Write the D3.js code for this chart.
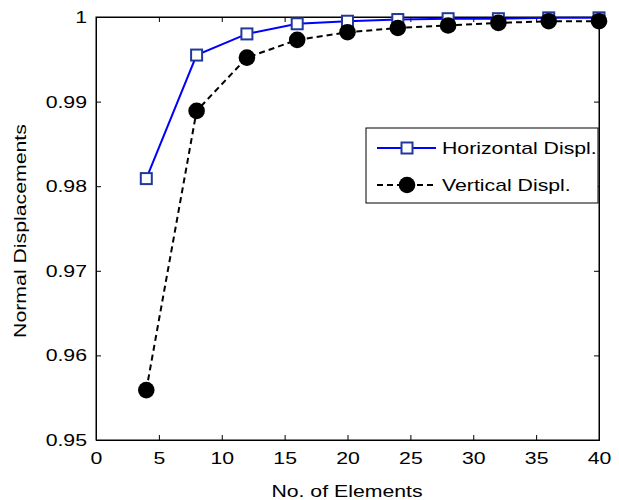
<!DOCTYPE html>
<html><head><meta charset="utf-8">
<script src="https://cdn.jsdelivr.net/npm/d3@7"></script>
<style>body{margin:0;background:#fff}svg{display:block}text{font-family:"Liberation Sans",Arial,sans-serif}</style>
</head><body><svg id="c" width="619" height="500"></svg>
<script>
const elements = [4, 8, 12, 16, 20, 24, 28, 32, 36, 40];
const horizontal = [0.9809, 0.9955, 0.9980, 0.9992, 0.9995, 0.9997, 0.9998, 0.9998, 0.9999, 0.9999];
const vertical = [0.9559, 0.9889, 0.9952, 0.9973, 0.9982, 0.9987, 0.9990, 0.9993, 0.9995, 0.9995];
const xTicks = [0, 5, 10, 15, 20, 25, 30, 35, 40];
const yTicks = [0.95, 0.96, 0.97, 0.98, 0.99, 1];
const seriesNames = ["Horizontal Displ.", "Vertical Displ."];

const svg = d3.select("#c");
const L = 96, R = 599, T = 17, B = 440;
const x = d3.scaleLinear().domain([0, 40]).range([L, R]);
const y = d3.scaleLinear().domain([0.95, 1]).range([B, T]);
const tl = 5;
const FS = 17, STRETCH = 1.25;
function stretch(sel) {
  sel.each(function () {
    const len = this.getComputedTextLength();
    if (len > 0) d3.select(this).attr("textLength", len * STRETCH).attr("lengthAdjust", "spacingAndGlyphs");
  });
}

svg.append("rect").attr("x", L).attr("y", T).attr("width", R - L).attr("height", B - T)
  .attr("fill", "none").attr("stroke", "#000").attr("stroke-width", 1);

const fmtY = d => d === 1 ? "1" : d3.format(".2f")(d);
const gx = svg.append("g").attr("transform", `translate(0,${B})`)
  .call(d3.axisBottom(x).tickValues(xTicks).tickSize(-tl).tickPadding(12).tickFormat(d3.format("d")));
const gx2 = svg.append("g").attr("transform", `translate(0,${T})`)
  .call(d3.axisTop(x).tickValues(xTicks).tickSize(-tl).tickFormat(""));
const gy = svg.append("g").attr("transform", `translate(${L},0)`)
  .call(d3.axisLeft(y).tickValues(yTicks).tickSize(-tl).tickPadding(9).tickFormat(fmtY));
const gy2 = svg.append("g").attr("transform", `translate(${R},0)`)
  .call(d3.axisRight(y).tickValues(yTicks).tickSize(-tl).tickFormat(""));
[gx, gx2, gy, gy2].forEach(g => {
  g.select(".domain").attr("stroke", "#000");
  g.selectAll("line").attr("stroke", "#000");
  g.selectAll("text").attr("font-size", FS).attr("fill", "#000").attr("font-family", '"Liberation Sans",Arial,sans-serif');
});
gx.selectAll("text").attr("dy", "0.71em");
stretch(gx.selectAll("text"));
stretch(gy.selectAll("text"));

svg.append("text").attr("x", 347).attr("y", 497).attr("text-anchor", "middle")
  .attr("font-size", FS).text("No. of Elements").call(stretch);
svg.append("text").attr("transform", `translate(26,${231}) rotate(-90)`).attr("text-anchor", "middle")
  .attr("font-size", FS).text("Normal Displacements").call(stretch);

const line = d3.line().x(d => x(d[0])).y(d => y(d[1]));
const hData = elements.map((e, i) => [e, horizontal[i]]);
const vData = elements.map((e, i) => [e, vertical[i]]);

svg.append("path").datum(hData).attr("d", line).attr("fill", "none").attr("stroke", "#0000ff").attr("stroke-width", 2);
svg.append("path").datum(vData).attr("d", line).attr("fill", "none").attr("stroke", "#000").attr("stroke-width", 2).attr("stroke-dasharray", "6,4");

const sq = 11;
svg.selectAll(".sq").data(hData).enter().append("rect")
  .attr("x", d => x(d[0]) - sq / 2).attr("y", d => y(d[1]) - sq / 2).attr("width", sq).attr("height", sq)
  .attr("fill", "#fff").attr("stroke", "#213a9a").attr("stroke-width", 2);
svg.selectAll(".ci").data(vData).enter().append("circle")
  .attr("cx", d => x(d[0])).attr("cy", d => y(d[1])).attr("r", 8.3).attr("fill", "#000");

// legend
const lx = 366, ly = 128, lw = 232, lh = 75;
svg.append("rect").attr("x", lx).attr("y", ly).attr("width", lw).attr("height", lh)
  .attr("fill", "#fff").attr("stroke", "#000").attr("stroke-width", 1);
const ey = [148, 185];
const mx = 407;
svg.append("line").attr("x1", 377).attr("x2", 436).attr("y1", ey[0]).attr("y2", ey[0]).attr("stroke", "#0000ff").attr("stroke-width", 2);
svg.append("rect").attr("x", mx - sq / 2).attr("y", ey[0] - sq / 2).attr("width", sq).attr("height", sq)
  .attr("fill", "#fff").attr("stroke", "#213a9a").attr("stroke-width", 2);
svg.append("line").attr("x1", 377).attr("x2", 436).attr("y1", ey[1]).attr("y2", ey[1]).attr("stroke", "#000").attr("stroke-width", 2).attr("stroke-dasharray", "6,4");
svg.append("circle").attr("cx", mx).attr("cy", ey[1]).attr("r", 8.3).attr("fill", "#000");
seriesNames.forEach((n, i) => {
  svg.append("text").attr("x", 442).attr("y", ey[i]).attr("dy", "0.36em").attr("font-size", FS).text(n).call(stretch);
});
</script></body></html>
